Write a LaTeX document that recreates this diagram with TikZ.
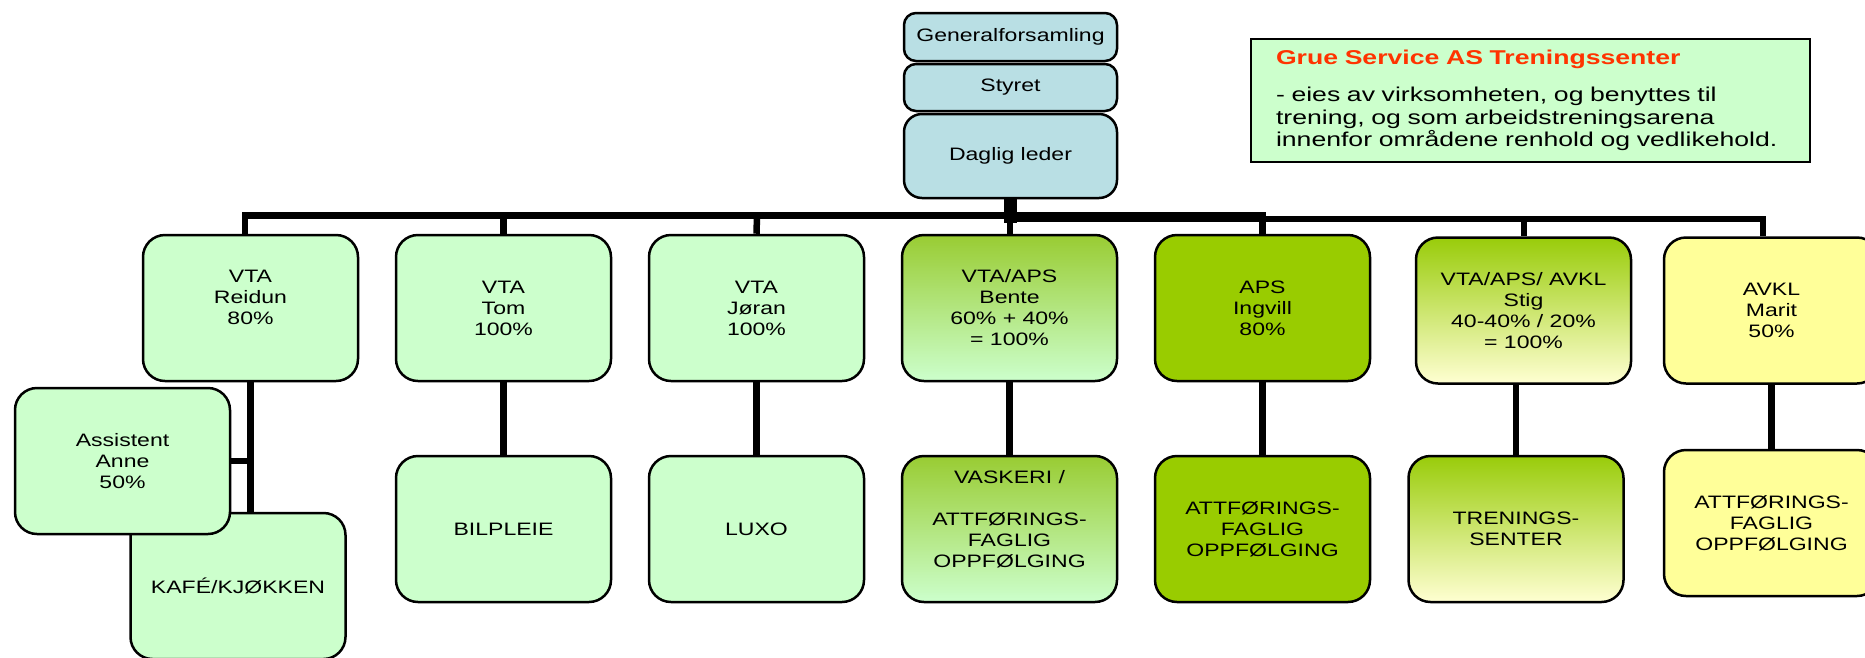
\documentclass[tikz,border=0pt]{standalone}
\usepackage{fontspec}
\newfontfamily\nodefont[FakeStretch=1.28]{Liberation Sans}
\newfontfamily\calfont[FakeStretch=1.33]{Liberation Sans}
\definecolor{topblue}{RGB}{185,223,228}
\definecolor{lgreen}{RGB}{204,255,204}
\definecolor{dgreen}{RGB}{153,204,0}
\definecolor{mgreen}{RGB}{153,204,51}
\definecolor{sgreen}{RGB}{153,204,10}
\definecolor{lyellow}{RGB}{255,255,210}
\definecolor{yel}{RGB}{255,255,153}
\definecolor{gruered}{RGB}{255,51,0}
\begin{document}
\begin{tikzpicture}[x=1pt,y=-1pt,
  box/.style={draw=black, line width=2.5pt, rounded corners=22pt,
    minimum width=215pt, minimum height=146pt, inner sep=0pt, align=center,
    text=black, font=\nodefont\fontsize{18}{21}\selectfont},
  topbox/.style={draw=black, line width=2.5pt, fill=topblue,
    minimum width=213pt, inner sep=0pt, align=center,
    text=black, font=\nodefont\fontsize{18}{21}\selectfont},
  conn/.style={line width=6.5pt, line join=miter, draw=black},
  stub/.style={line width=13pt, draw=black},
  note/.style={draw=black, line width=2pt, fill=lgreen,
    minimum width=559pt, minimum height=123pt, text width=509pt,
    inner xsep=25pt, inner ysep=0pt, align=left, text=black,
    font=\calfont\fontsize{20}{22.5}\selectfont}]
\useasboundingbox (0,0) rectangle (1865,657);

% top stack
\node[topbox, rounded corners=12pt, minimum height=48pt] (gen) at (1010.5,37) {Generalforsamling};
\node[topbox, rounded corners=12pt, minimum height=47pt] (styret) at (1010.5,87.5) {Styret};
\node[topbox, rounded corners=18pt, minimum height=84pt] (daglig) at (1010.5,156) {Daglig leder};

% callout
\node[note] (info) at (1530.5,100.4) {{\fontsize{20}{22}\selectfont\bfseries\color{gruered}Grue Service AS Treningssenter}\\[15pt]- eies av virksomheten, og benyttes til\\trening, og som arbeidstreningsarena\\innenfor områdene renhold og vedlikehold.};

% first row
\node[box, fill=lgreen] (reidun) at (250.5,308) {VTA\\Reidun\\80\%\\\mbox{}};
\node[box, fill=lgreen] (tom) at (503.5,308) {VTA\\Tom\\100\%};
\node[box, fill=lgreen] (joran) at (756.5,308) {VTA\\Jøran\\100\%};
\node[box, top color=mgreen, bottom color=lgreen] (bente) at (1009.5,308) {VTA/APS\\Bente\\60\% + 40\%\\= 100\%};
\node[box, fill=dgreen] (ingvill) at (1262.5,308) {APS\\Ingvill\\80\%};
\node[box, top color=sgreen, bottom color=lyellow] (stig) at (1523.5,310.5) {VTA/APS/ AVKL\\Stig\\40-40\% / 20\%\\= 100\%};
\node[box, fill=yel] (marit) at (1771.5,310.5) {AVKL\\Marit\\50\%};

% second row
\node[box, fill=lgreen] (kafe) at (238,586) {KAFÉ/KJØKKEN};
\node[box, fill=lgreen] (anne) at (122.5,461) {Assistent\\Anne\\50\%};
\node[box, fill=lgreen] (bilpleie) at (503.5,529) {BILPLEIE};
\node[box, fill=lgreen] (luxo) at (756.5,529) {LUXO};
\node[box, top color=mgreen, bottom color=lgreen] (vaskeri) at (1009.5,529) {VASKERI /\\\mbox{}\\ATTFØRINGS-\\FAGLIG\\OPPFØLGING\\\mbox{}};
\node[box, fill=dgreen] (ingvillattf) at (1262.5,529) {ATTFØRINGS-\\FAGLIG\\OPPFØLGING};
\node[box, top color=sgreen, bottom color=lyellow] (trening) at (1516,529) {TRENINGS-\\SENTER};
\node[box, fill=yel] (maritattf) at (1771.5,523) {ATTFØRINGS-\\FAGLIG\\OPPFØLGING};

% bus coordinates
\coordinate (a1) at (245,215.5);
\coordinate (a2) at (503.5,215.5);
\coordinate (a3) at (757,215.5);
\coordinate (a5) at (1262.5,215.5);
\coordinate (b4) at (1010,219);
\coordinate (b6) at (1524,219);
\coordinate (b7) at (1763,219);
\coordinate (dstub) at (1008,222.5);

% connectors
\draw[conn] (a1 |- reidun.north) -- (a1) -- (a5) -- (ingvill.north);
\draw[conn] (a2) -- (tom.north);
\draw[conn] (a3) -- (joran.north);
\draw[conn] (b4 |- bente.north) -- (b4) -- (b7) -- (b7 |- marit.north);
\draw[conn] (b6) -- (b6 |- stig.north);
\draw[stub] (daglig.south) -- (daglig.south |- dstub);

\draw[conn] (reidun.south) -- (reidun.south |- kafe.north);
\draw[conn] (anne.east) -- (anne.east -| reidun.south);
\draw[conn] (tom.south) -- (bilpleie.north);
\draw[conn] (joran.south) -- (luxo.north);
\draw[conn] (bente.south) -- (vaskeri.north);
\draw[conn] (ingvill.south) -- (ingvillattf.north);
\draw[conn] (trening.north |- stig.south) -- (trening.north);
\draw[conn] (marit.south) -- (maritattf.north);
\end{tikzpicture}
\end{document}
